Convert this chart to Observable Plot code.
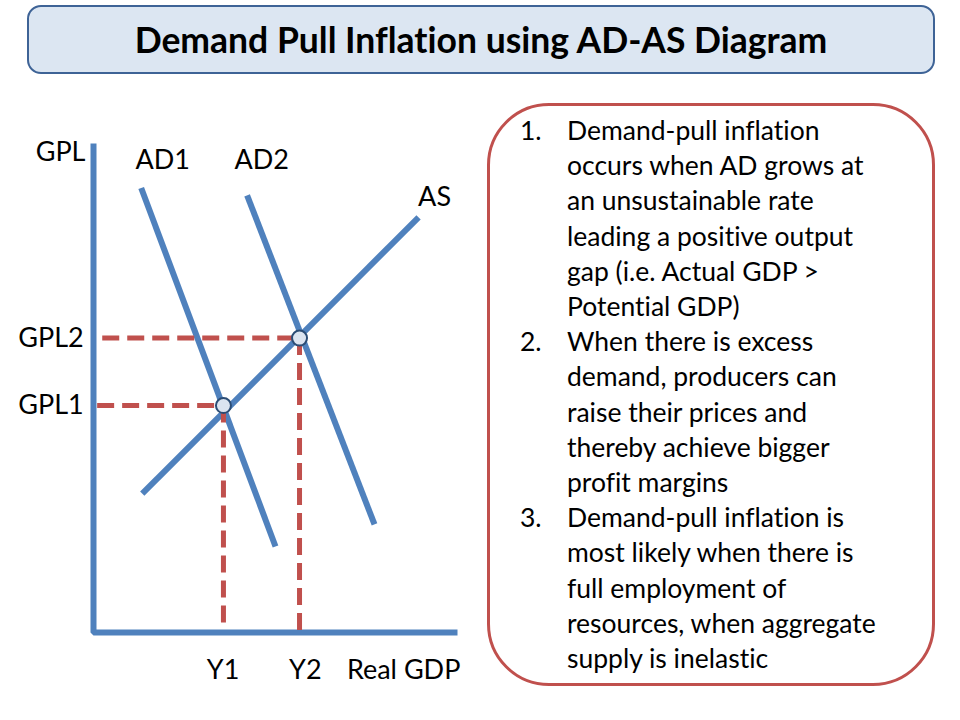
<!DOCTYPE html>
<html>
<head>
<meta charset="utf-8">
<script src="https://cdn.jsdelivr.net/npm/d3@7"></script>
<script src="https://cdn.jsdelivr.net/npm/@observablehq/plot@0.6"></script>
<style>
  html, body { margin: 0; padding: 0; background: #ffffff; }
  body { width: 960px; height: 720px; position: relative; overflow: hidden; font-family: Lato, "Open Sans", sans-serif; font-variant-ligatures: none; }
  #title {
    position: absolute; left: 27px; top: 5px; width: 908px; height: 69px; box-sizing: border-box;
    background: #dce6f2; border: 2.5px solid #3e6396; border-radius: 14px;
    display: flex; align-items: center; justify-content: center;
    font-family: Lato, sans-serif; font-weight: 700; font-size: 35.5px; color: #000;
  }
  #notes {
    position: absolute; left: 487px; top: 103px; width: 448px; height: 583px; box-sizing: border-box;
    border: 3px solid #c0504d; border-radius: 62px; background: #fff;
  }
  #noteText { position: absolute; left: 520px; top: 113px; font-size: 26.5px; line-height: 35.2px; color: #000; }
  .item { position: relative; padding-left: 47px; }
  .num { position: absolute; left: 0; top: 0; }
  #chart { position: absolute; left: 0; top: 0; }
  #chart svg text { font-variant-ligatures: none; }
</style>
</head>
<body>
<div id="title"></div>
<div id="notes"></div>
<div id="noteText"></div>
<div id="chart"></div>
<script>
// ---- Text content ----
const titleText = "Demand Pull Inflation using AD-AS Diagram";
const noteNumbers = ["1.", "2.", "3."];
const noteLines = [
  ["Demand-pull inflation", "occurs when AD grows at", "an unsustainable rate", "leading a positive output", "gap (i.e. Actual GDP >", "Potential GDP)"],
  ["When there is excess", "demand, producers can", "raise their prices and", "thereby achieve bigger", "profit margins"],
  ["Demand-pull inflation is", "most likely when there is", "full employment of", "resources, when aggregate", "supply is inelastic"]
];

// ---- Diagram data (x: Real GDP 0-100, y: GPL 0-100) ----
const curveNames = ["AD1", "AD1", "AD2", "AD2", "AS", "AS"];
const curveX = [13.1, 50.0, 42.2, 77.2, 13.4, 89.3];
const curveY = [90.9, 17.6, 89.4, 22.1, 28.4, 84.9];

const axisX = [0, 0, 100];
const axisY = [100, 0, 0];

const eqNames = ["E1", "E2"];
const eqX = [35.7, 56.6];
const eqY = [46.4, 60.2];
const dashStartX = [1.0, 2.4];   // horizontal guide start (near GPL axis)
const dashBottomY = 0.5;         // vertical guides end near GDP axis

const labelText = ["GPL", "AD1", "AD2", "AS", "GPL2", "GPL1", "Y1", "Y2", "Real GDP"];
const labelX = [-2.2, 19.0, 46.2, 93.7, -2.7, -2.7, 35.6, 58.2, 85.2];
const labelY = [98.2, 96.5, 96.5, 89.0, 60.2, 46.4, -7.8, -7.8, -7.8];
const labelAnchor = ["end", "middle", "middle", "middle", "end", "end", "middle", "middle", "middle"];

// ---- Build tables ----
const curves = curveNames.map((s, i) => ({ s, x: curveX[i], y: curveY[i] }));
const axisPts = axisX.map((x, i) => ({ x, y: axisY[i] }));
const eq = eqNames.map((n, i) => ({ n, x: eqX[i], y: eqY[i] }));
const hDash = eq.flatMap((d, i) => [{ n: d.n, x: dashStartX[i], y: d.y }, { n: d.n, x: d.x, y: d.y }]);
const vDash = eq.flatMap(d => [{ n: d.n, x: d.x, y: d.y }, { n: d.n, x: d.x, y: dashBottomY }]);
const labels = labelText.map((t, i) => ({ t, x: labelX[i], y: labelY[i], a: labelAnchor[i] }));

const blue = "#4f81bd";
const red = "#c0504d";

const chart = Plot.plot({
  width: 480,
  height: 720,
  marginLeft: 93,
  marginRight: 23,
  marginTop: 143,
  marginBottom: 88,
  x: { domain: [0, 100], axis: null },
  y: { domain: [0, 100], axis: null },
  style: { background: "transparent", overflow: "visible" },
  marks: [
    Plot.line(axisPts, { x: "x", y: "y", stroke: blue, strokeWidth: 6, strokeLinejoin: "miter", strokeLinecap: "butt" }),
    Plot.line(curves, { x: "x", y: "y", z: "s", stroke: blue, strokeWidth: 6, strokeLinecap: "butt" }),
    Plot.line(hDash, { x: "x", y: "y", z: "n", stroke: red, strokeWidth: 5, strokeDasharray: "17,8", strokeLinecap: "butt" }),
    Plot.line(vDash, { x: "x", y: "y", z: "n", stroke: red, strokeWidth: 5, strokeDasharray: "17,8", strokeLinecap: "butt" }),
    Plot.dot(eq, { x: "x", y: "y", r: 7.5, fill: "#dbe4f0", stroke: "#2c4d75", strokeWidth: 2 }),
    Plot.text(labels.filter(d => d.a === "end"), { x: "x", y: "y", text: "t", textAnchor: "end", fontSize: 27, fontFamily: "Lato", fill: "#000" }),
    Plot.text(labels.filter(d => d.a === "middle"), { x: "x", y: "y", text: "t", textAnchor: "middle", fontSize: 27, fontFamily: "Lato", fill: "#000" })
  ]
});
document.getElementById("chart").appendChild(chart);

// ---- Title & notes ----
document.getElementById("title").textContent = titleText;
const nt = document.getElementById("noteText");
noteLines.forEach((lines, i) => {
  const item = document.createElement("div");
  item.className = "item";
  const num = document.createElement("span");
  num.className = "num";
  num.textContent = noteNumbers[i];
  item.appendChild(num);
  lines.forEach(l => {
    const d = document.createElement("div");
    d.textContent = l;
    item.appendChild(d);
  });
  nt.appendChild(item);
});
</script>
</body>
</html>
